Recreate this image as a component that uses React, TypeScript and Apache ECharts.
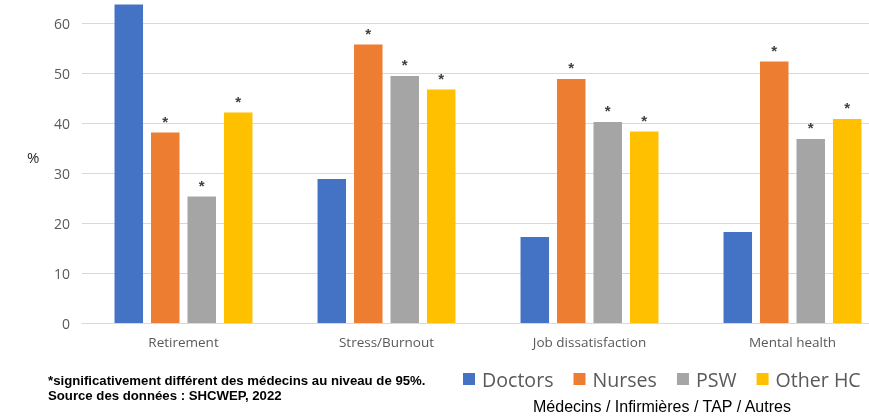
import React, { useEffect, useRef } from "react";
import * as echarts from "echarts";

const categories = ["Retirement", "Stress/Burnout", "Job dissatisfaction", "Mental health"];
const seriesNames = ["Doctors", "Nurses", "PSW", "Other HC"];
const doctors = [63.7, 28.8, 17.2, 18.2];
const nurses = [38.1, 55.7, 48.8, 52.3];
const psw = [25.3, 49.4, 40.2, 36.8];
const otherHC = [42.1, 46.7, 38.3, 40.8];
const yTicks = { min: 0, max: 70, interval: 10 };
const colors = ["#4472C4", "#ED7D31", "#A5A5A5", "#FFC000"];
const footnote1 = "*significativement différent des médecins au niveau de 95%.";
const footnote2 = "Source des données : SHCWEP, 2022";
const legendSubtitle = "Médecins / Infirmières / TAP / Autres";
const significant = [false, true, true, true];

// the chart canvas is larger than the visible window and shifted up so that the
// top (70) gridline and the right end of the plot are cropped like the reference
const OFFSET_Y = 27;

export default function App() {
  const ref = useRef<HTMLDivElement>(null);
  useEffect(() => {
    if (!ref.current) return;
    const chart = echarts.init(ref.current, undefined, { renderer: "svg" });
    const values = [doctors, nurses, psw, otherHC];
    chart.setOption({
      animation: false,
      grid: { left: 82, right: 0, top: 0, bottom: 93, containLabel: false, outerBoundsMode: "none" },
      legend: {
        data: seriesNames,
        left: 463,
        top: 369 + OFFSET_Y,
        padding: 0,
        itemWidth: 12,
        itemHeight: 12,
        itemGap: 20,
        icon: "rect",
        textStyle: { fontFamily: "Open Sans", fontSize: 19.6, color: "#595959", padding: [0, 0, 0, 2] },
      },
      xAxis: {
        type: "category",
        data: categories,
        axisLine: { lineStyle: { color: "#D9D9D9", width: 1 } },
        axisTick: { show: false },
        axisLabel: { fontFamily: "Open Sans", fontSize: 13.5, color: "#595959", margin: 12 },
      },
      yAxis: {
        type: "value",
        min: yTicks.min,
        max: yTicks.max,
        interval: yTicks.interval,
        axisLine: { show: false },
        axisTick: { show: false },
        axisLabel: { fontFamily: "Open Sans", fontSize: 14, color: "#595959", margin: 12, showMaxLabel: false },
        splitLine: { lineStyle: { color: "#D9D9D9", width: 1 } },
      },
      series: seriesNames.map((name, i) => ({
        name,
        type: "bar",
        data: values[i],
        barWidth: 28.5,
        barGap: "28%",
        itemStyle: { color: colors[i] },
        label: {
          show: significant[i],
          position: "top",
          formatter: "*",
          distance: 4,
          fontFamily: "Liberation Sans",
          fontSize: 15,
          fontWeight: "bold",
          color: "#404040",
        },
      })),
      graphic: [
        {
          type: "text",
          left: 27,
          top: 149 + OFFSET_Y,
          style: { text: "%", fontFamily: "Open Sans", fontSize: 15, fill: "#262626" },
        },
        {
          type: "text",
          left: 48,
          top: 373 + OFFSET_Y,
          style: {
            text: footnote1 + "\n" + footnote2,
            fontFamily: "Liberation Sans",
            fontSize: 13.2,
            fontWeight: "bold",
            lineHeight: 15,
            fill: "#000000",
          },
        },
        {
          type: "text",
          left: 533,
          top: 398 + OFFSET_Y,
          style: { text: legendSubtitle, fontFamily: "Liberation Sans", fontSize: 16, fill: "#000000" },
        },
      ],
    });
    return () => chart.dispose();
  }, []);
  return (
    <div style={{ position: "fixed", left: 0, top: 0, width: 869, height: 416, overflow: "hidden" }}>
      <div ref={ref} style={{ position: "absolute", left: 0, top: -OFFSET_Y, width: 894, height: 416 + OFFSET_Y }} />
    </div>
  );
}
